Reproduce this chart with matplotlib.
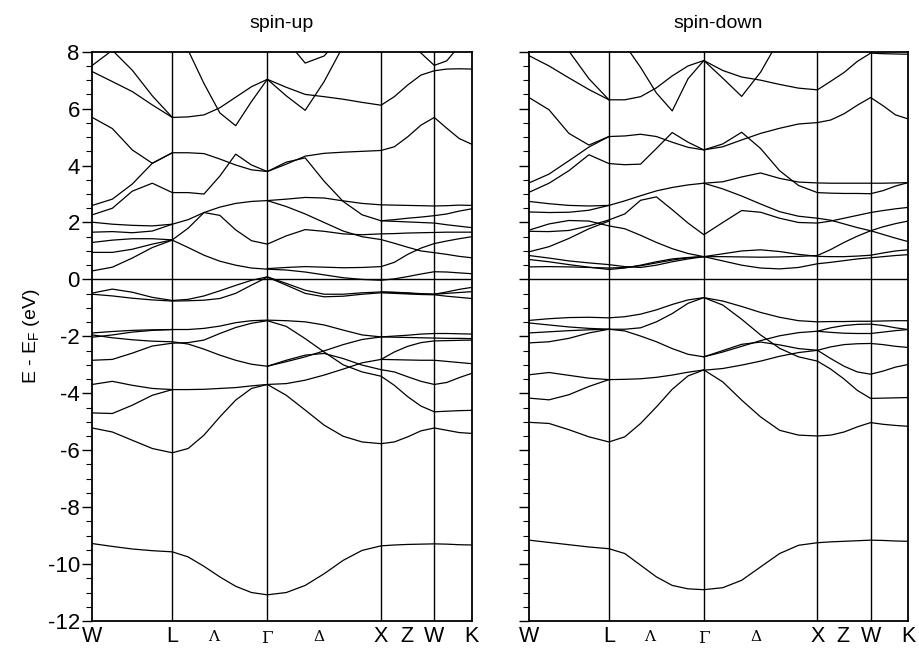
import numpy as np
import matplotlib.pyplot as plt

plt.rcParams['font.family'] = ['Liberation Sans', 'DejaVu Sans']
plt.rcParams['axes.unicode_minus'] = False

n = np.nan

# k-path W-L-G-X-W-K (distance along path)
k_nodes = [0.0, 0.723, 1.581, 2.608, 3.089, 3.427]
k_labels = ['W', 'L', 'Λ', 'Γ', 'Δ', 'X', 'Z', 'W', 'K']
k_label_pos = [0.0, 0.723, 1.092, 1.581, 2.05, 2.608, 2.84, 3.089, 3.427]
k = [0.0, 0.181, 0.361, 0.542, 0.723,
     0.866, 1.009, 1.152, 1.295, 1.438, 1.581,
     1.752, 1.923, 2.094, 2.266, 2.437, 2.608,
     2.728, 2.849, 2.969, 3.089,
     3.202, 3.314, 3.427]

# spin-up, conduction side
up_high = [
    [7.52, 8.05, 7.35, 6.45, 5.69, 5.71, 5.78, 6.03, 6.40, 6.77, 7.03, 6.75, 6.50, 6.42, 6.33, 6.22, 6.12, 6.42, 6.83, 7.18, 7.33, 7.39, 7.40, 7.39],
    [7.30, 6.95, 6.60, 6.13, 5.69] + [n] * 19,
    [n] * 5 + [8.05, 6.88, 5.85, 5.40, 6.25, 7.03, 6.45, 5.94, 6.95, 8.2] + [n] * 9,
    [n] * 11 + [8.4, 7.6, 7.85, 8.6] + [n] * 9,
    [n] * 18 + [8.6, 7.95, 7.52, 7.68, 8.2, n],
    [5.69, 5.30, 4.55, 4.08, 4.45, 4.45, 4.42, 4.23, 4.02, 3.85, 3.79, 4.05, 4.33, 4.43, 4.47, 4.50, 4.53, 4.66, 5.01, 5.42, 5.69, 5.31, 4.95, 4.75],
    [2.60, 2.82, 3.35, 4.08, 4.45] + [n] * 19,
    [2.27, 2.50, 3.10, 3.38, 3.05, 3.05, 3.00, 3.63, 4.40, 4.02, 3.79, 4.12, 4.27, 3.45, 2.74, 2.27, 2.06, 2.10, 2.15, 2.19, 2.24, 2.30, 2.40, 2.48],
    [n] * 16 + [2.06, 2.04, 2.02, 2.00, 1.98, 1.92, 1.87, 1.82],
]
up_low = [
    [2.01, 1.94, 1.90, 1.88, 1.94, 2.10, 2.35, 2.54, 2.67, 2.74, 2.77, 2.82, 2.88, 2.86, 2.76, 2.67, 2.62, 2.61, 2.60, 2.59, 2.58, 2.59, 2.61, 2.60],
    [1.66, 1.68, 1.64, 1.70, 1.94] + [n] * 19,
    [1.30, 1.38, 1.43, 1.43, 1.39, 1.80, 2.35, 2.25, 1.74, 1.36, 1.24, 1.53, 1.75, 1.69, 1.60, 1.57, 1.60, 1.61, 1.63, 1.64, 1.65, 1.66, 1.66, 1.66],
    [0.95, 0.95, 1.06, 1.24, 1.39] + [n] * 19,
    [0.30, 0.43, 0.75, 1.12, 1.38, 1.12, 0.85, 0.64, 0.50, 0.40, 0.36, 0.33, 0.26, 0.16, 0.06, 0.00, -0.03, 0.02, 0.10, 0.19, 0.27, 0.26, 0.23, 0.20],
    [n] * 10 + [0.38, 0.42, 0.45, 0.43, 0.41, 0.42, 0.45, 0.60, 0.88, 1.10, 1.26, 1.35, 1.43, 1.50],
    [n] * 10 + [2.77, 2.56, 2.30, 2.00, 1.70, 1.50, 1.40, 1.27, 1.13, 1.00, 0.94, 0.88, 0.81, 0.76],
]
# spin-up, valence side
up_val = [
    [-0.48, -0.34, -0.45, -0.63, -0.74, -0.70, -0.58, -0.40, -0.21, -0.03, 0.09, -0.14, -0.38, -0.52, -0.52, -0.47, -0.44, -0.45, -0.47, -0.50, -0.52, -0.44, -0.35, -0.28],
    [-0.52, -0.58, -0.66, -0.72, -0.76, -0.75, -0.73, -0.67, -0.49, -0.20, 0.08, -0.20, -0.49, -0.61, -0.59, -0.52, -0.47, -0.49, -0.51, -0.53, -0.54, -0.59, -0.63, -0.67],
    [n] * 16 + [-0.44, -0.46, -0.49, -0.51, -0.52, -0.49, -0.46, -0.43],
    [-1.88, -1.83, -1.79, -1.77, -1.76, -1.76, -1.72, -1.64, -1.52, -1.45, -1.43, -1.45, -1.49, -1.60, -1.78, -1.95, -2.02, -1.99, -1.96, -1.92, -1.90, -1.90, -1.91, -1.92],
    [-2.03, -1.95, -1.85, -1.79, -1.76] + [n] * 19,
    [-1.95, -2.05, -2.12, -2.17, -2.19, -2.27, -2.45, -2.66, -2.84, -2.98, -3.05, -2.84, -2.66, -2.60, -2.78, -3.01, -3.17, -3.25, -3.42, -3.58, -3.69, -3.62, -3.45, -3.30],
    [-2.84, -2.81, -2.59, -2.34, -2.24, -2.22, -2.13, -1.90, -1.69, -1.54, -1.45, -1.65, -2.08, -2.55, -3.00, -3.25, -3.40, -3.72, -4.12, -4.45, -4.65, -4.63, -4.61, -4.60],
    [n] * 10 + [-3.05, -2.89, -2.72, -2.51, -2.29, -2.11, -2.02, -2.03, -2.04, -2.05, -2.06, -2.07, -2.07, -2.08],
    [-3.69, -3.58, -3.72, -3.83, -3.87, -3.87, -3.86, -3.83, -3.80, -3.74, -3.69, -3.66, -3.54, -3.36, -3.15, -2.93, -2.81, -2.55, -2.35, -2.22, -2.16, -2.15, -2.14, -2.13],
    [n] * 16 + [-2.81, -2.82, -2.83, -2.84, -2.84, -2.88, -2.92, -2.96],
    [-4.69, -4.71, -4.42, -4.07, -3.87] + [n] * 19,
    [-5.22, -5.36, -5.65, -5.94, -6.09, -5.94, -5.47, -4.83, -4.24, -3.83, -3.69, -4.07, -4.59, -5.12, -5.51, -5.71, -5.77, -5.71, -5.53, -5.32, -5.22, -5.30, -5.38, -5.41],
    [-9.28, -9.38, -9.47, -9.53, -9.57, -9.75, -10.08, -10.45, -10.78, -11.0, -11.08, -11.0, -10.75, -10.34, -9.87, -9.52, -9.36, -9.33, -9.31, -9.30, -9.29, -9.30, -9.32, -9.33],
]

# spin-down, conduction side
dn_high = [
    [7.86, 7.50, 7.08, 6.67, 6.31, 6.31, 6.42, 6.73, 7.15, 7.50, 7.69, 7.34, 7.11, 7.00, 6.85, 6.72, 6.66, 6.96, 7.27, 7.66, 7.95, 7.93, 7.92, 7.91],
    [n, n, 8.02, 7.05, 6.31] + [n] * 19,
    [n] * 5 + [8.25, 7.45, 6.55, 5.92, 7.05, 7.69, 7.07, 6.43, 7.28, 8.45] + [n] * 9,
    [6.39, 5.96, 5.13, 4.72, 5.02, 5.04, 5.10, 5.02, 4.82, 4.64, 4.55, 4.66, 4.90, 5.13, 5.31, 5.46, 5.51, 5.60, 5.82, 6.12, 6.39, 6.10, 5.78, 5.64],
    [3.39, 3.70, 4.17, 4.65, 5.02] + [n] * 19,
    [3.06, 3.38, 3.82, 4.38, 4.07, 4.03, 4.05, 4.60, 5.16, 4.82, 4.55, 4.76, 5.17, 4.60, 3.82, 3.30, 3.05, 3.03, 3.02, 3.02, 3.01, 3.12, 3.28, 3.40],
    [2.74, 2.66, 2.60, 2.58, 2.60, 2.76, 2.94, 3.11, 3.23, 3.32, 3.38, 3.43, 3.60, 3.74, 3.55, 3.42, 3.39, 3.38, 3.38, 3.38, 3.38, 3.38, 3.39, 3.40],
    [2.37, 2.35, 2.36, 2.43, 2.60] + [n] * 19,
    [n] * 10 + [3.38, 3.18, 2.93, 2.65, 2.38, 2.22, 2.15, 2.08, 1.95, 1.82, 1.71, 1.58, 1.45, 1.33],
]
dn_low = [
    [1.69, 1.68, 1.72, 1.88, 2.09, 2.30, 2.78, 2.90, 2.45, 1.98, 1.57, 2.00, 2.42, 2.36, 2.15, 2.00, 1.98, 2.05, 2.15, 2.25, 2.35, 2.42, 2.48, 2.53],
    [1.73, 1.95, 2.07, 2.05, 1.88, 1.78, 1.55, 1.30, 1.08, 0.91, 0.80, 0.90, 1.00, 1.04, 0.98, 0.88, 0.81, 0.80, 0.80, 0.82, 0.85, 0.93, 1.00, 1.04],
    [0.97, 1.15, 1.44, 1.78, 2.05] + [n] * 19,
    [0.84, 0.75, 0.65, 0.58, 0.52, 0.45, 0.42, 0.50, 0.62, 0.72, 0.80, 0.80, 0.79, 0.78, 0.79, 0.81, 0.84, 1.05, 1.30, 1.52, 1.71, 1.85, 1.96, 2.05],
    [0.70, 0.62, 0.52, 0.43, 0.35, 0.40, 0.50, 0.62, 0.72, 0.77, 0.80, 0.65, 0.50, 0.40, 0.37, 0.42, 0.55, 0.60, 0.66, 0.72, 0.76, 0.80, 0.84, 0.87],
    [0.44, 0.45, 0.44, 0.42, 0.40, 0.42, 0.48, 0.58, 0.68, 0.76, 0.80] + [n] * 13,
]
# spin-down, valence side
dn_val = [
    [-1.44, -1.38, -1.34, -1.33, -1.35, -1.31, -1.22, -1.07, -0.88, -0.72, -0.64, -0.76, -0.95, -1.16, -1.33, -1.45, -1.49, -1.48, -1.48, -1.47, -1.47, -1.46, -1.45, -1.45],
    [-2.23, -2.19, -2.07, -1.88, -1.75, -1.75, -1.70, -1.49, -1.20, -0.84, -0.64, -0.90, -1.40, -1.95, -2.42, -2.72, -2.87, -3.15, -3.50, -3.90, -4.18, -4.17, -4.16, -4.15],
    [-1.53, -1.60, -1.67, -1.72, -1.75, -1.81, -1.99, -2.19, -2.43, -2.63, -2.72, -2.50, -2.28, -2.20, -2.30, -2.43, -2.49, -2.78, -3.05, -3.25, -3.33, -3.22, -3.08, -2.99],
    [-1.88, -1.84, -1.80, -1.77, -1.75] + [n] * 19,
    [n] * 10 + [-2.72, -2.55, -2.35, -2.15, -1.98, -1.87, -1.82, -1.70, -1.62, -1.58, -1.57, -1.62, -1.70, -1.76],
    [n] * 16 + [-1.82, -1.86, -1.89, -1.90, -1.90, -1.85, -1.80, -1.76],
    [n] * 10 + [-3.19, -3.13, -3.01, -2.87, -2.70, -2.57, -2.49, -2.37, -2.29, -2.26, -2.25, -2.29, -2.35, -2.39],
    [-3.35, -3.27, -3.37, -3.47, -3.52, -3.51, -3.49, -3.44, -3.36, -3.26, -3.18, -3.60, -4.24, -4.83, -5.30, -5.47, -5.50, -5.47, -5.36, -5.18, -5.03, -5.09, -5.13, -5.16],
    [-4.17, -4.23, -4.05, -3.76, -3.52] + [n] * 19,
    [-5.02, -5.06, -5.28, -5.53, -5.71, -5.53, -5.06, -4.48, -3.86, -3.39, -3.18] + [n] * 13,
    [-9.16, -9.24, -9.32, -9.40, -9.46, -9.63, -10.04, -10.45, -10.75, -10.87, -10.90, -10.83, -10.57, -10.10, -9.63, -9.34, -9.25, -9.22, -9.20, -9.18, -9.16, -9.17, -9.19, -9.20],
]


def draw_panel(ax, bands, title, show_labels):
    for b in bands:
        ax.plot(k, b, color='black', lw=0.9)
    for kn in k_nodes[1:-1]:
        ax.axvline(kn, color='black', lw=1.0)
    ax.axhline(0, color='black', lw=1.0)
    ax.set_xlim(k_nodes[0], k_nodes[-1])
    ax.set_ylim(-12, 8)
    ax.set_yticks(range(-12, 9, 2))
    ax.set_yticks(np.arange(-12, 8.01, 0.5), minor=True)
    ax.tick_params(axis='y', which='major', direction='out', length=7, width=1.0,
                   labelsize=16, labelleft=show_labels, pad=2)
    ax.tick_params(axis='y', which='minor', direction='out', length=4, width=0.8)
    ax.set_xticks([])
    for s in ax.spines.values():
        s.set_linewidth(1.3)
    ax.set_title(title, fontsize=14, pad=17)
    for pos, lab in zip(k_label_pos, k_labels):
        if lab in ('Λ', 'Γ', 'Δ'):
            size = 12 if lab == 'Γ' else 11
            ax.text(pos, -0.016, lab, transform=ax.get_xaxis_transform(),
                    ha='center', va='top', fontsize=size, family='DejaVu Serif')
        else:
            ax.text(pos, -0.008, lab, transform=ax.get_xaxis_transform(),
                    ha='center', va='top', fontsize=15.5)


fig = plt.figure(figsize=(9.19, 6.48), dpi=100)
ax1 = fig.add_axes([92.3 / 919, 27 / 648, 379.4 / 919, 569.3 / 648])
ax2 = fig.add_axes([529 / 919, 27 / 648, 379 / 919, 569.3 / 648])

draw_panel(ax1, up_high + up_low + up_val, 'spin-up', True)
draw_panel(ax2, dn_high + dn_low + dn_val, 'spin-down', False)
ax1.set_ylabel('E - E$_\\mathregular{F}$ (eV)', fontsize=14, labelpad=4)

fig.savefig('out.png', dpi=100)
